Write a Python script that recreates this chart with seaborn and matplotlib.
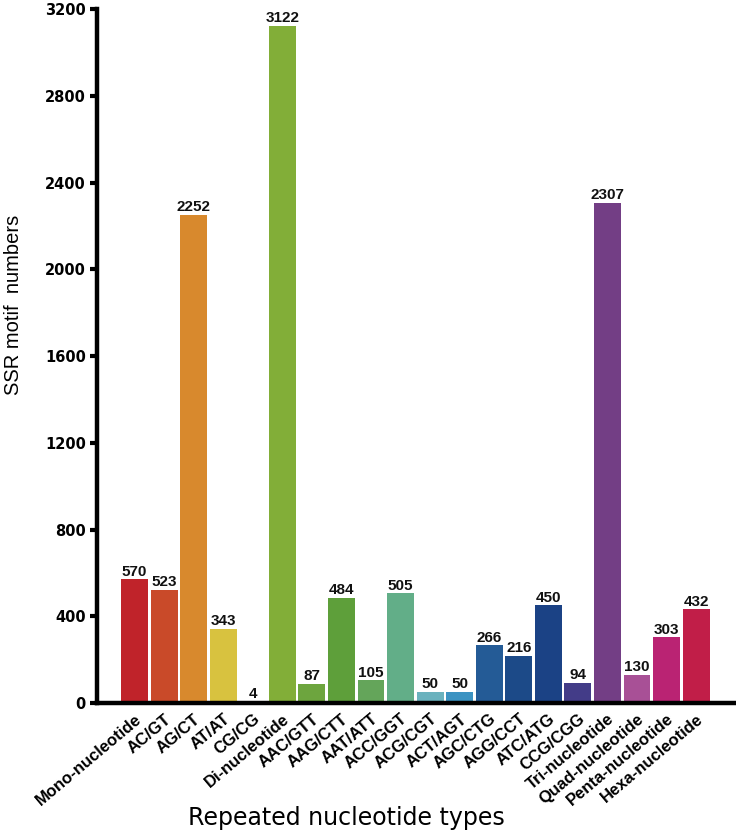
import matplotlib
matplotlib.use("Agg")
import matplotlib.pyplot as plt
import seaborn as sns
import pandas as pd

categories = ["Mono-nucleotide", "AC/GT", "AG/CT", "AT/AT", "CG/CG", "Di-nucleotide",
              "AAC/GTT", "AAG/CTT", "AAT/ATT", "ACC/GGT", "ACG/CGT", "ACT/AGT",
              "AGC/CTG", "AGG/CCT", "ATC/ATG", "CCG/CGG", "Tri-nucleotide",
              "Quad-nucleotide", "Penta-nucleotide", "Hexa-nucleotide"]
values = [570, 523, 2252, 343, 4, 3122, 87, 484, 105, 505, 50, 50,
          266, 216, 450, 94, 2307, 130, 303, 432]
colors = ["#C0232A", "#C94A29", "#D8892D", "#D8C23F", "#C8C840", "#82AE38",
          "#6DA53E", "#5E9F3A", "#64A55A", "#62AE88", "#6AB2BE", "#3C93C2",
          "#245B96", "#1C4A88", "#1B4285", "#433C88", "#733E85",
          "#A85096", "#BA2373", "#C11E48"]
yticks = [0, 400, 800, 1200, 1600, 2000, 2400, 2800, 3200]

sns.set_theme(style="white")
plt.rcParams["font.family"] = ["Liberation Sans", "DejaVu Sans"]

df = pd.DataFrame({"type": categories, "count": values})

fig = plt.figure(figsize=(7.36, 8.4), dpi=100)
ax = fig.add_axes([97 / 736, 137 / 840, 1 - 97 / 736, (703 - 9) / 840])

sns.barplot(data=df, x="type", y="count", hue="type", palette=colors,
            legend=False, width=0.91, saturation=1, ax=ax, edgecolor="none")

for i, v in enumerate(values):
    ax.annotate(str(v), xy=(i, v), xytext=(0, 0.5), textcoords="offset points",
                ha="center", va="bottom", fontsize=11, fontweight="bold",
                color="#111111")

ax.set_ylim(0, 3200)
ax.set_xlim(-1.27, 20.35)
ax.set_yticks(yticks)
ax.set_yticklabels([str(t) for t in yticks], fontsize=10.5, fontweight="bold",
                   family=["DejaVu Sans"])
ax.set_xticks(range(len(categories)))
ax.set_xticklabels(categories, rotation=40, ha="right", rotation_mode="anchor",
                   fontsize=12, fontweight="bold")

for s in ["top", "right"]:
    ax.spines[s].set_visible(False)
for s in ["left", "bottom"]:
    ax.spines[s].set_linewidth(3.2)
    ax.spines[s].set_color("black")

ax.tick_params(axis="y", which="major", left=True, length=5, width=3, color="black",
               pad=3, labelcolor="black")
ax.tick_params(axis="x", which="major", bottom=False, length=0, pad=6, labelcolor="black")

ax.set_ylabel("SSR motif  numbers", fontsize=14.5, color="black")
ax.set_xlabel("Repeated nucleotide types", fontsize=17, color="black",
              family=["DejaVu Sans"])
ax.yaxis.set_label_coords(-0.116, 0.573)
ax.xaxis.set_label_coords(0.39, -0.149)

fig.savefig("out.png", dpi=100)
